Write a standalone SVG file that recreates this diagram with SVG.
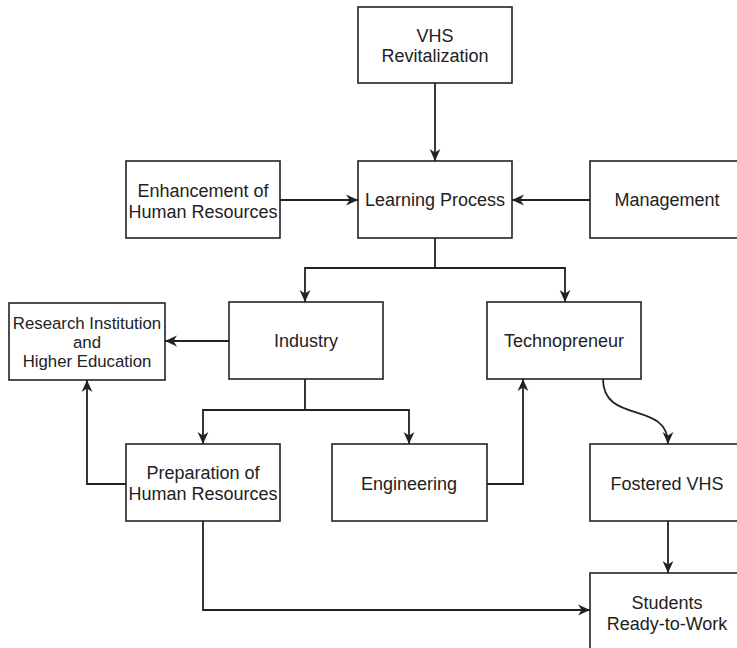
<svg xmlns="http://www.w3.org/2000/svg" width="737" height="648" viewBox="0 0 737 648">
<style>
.box{fill:#fff;stroke:#222;stroke-width:1.6}
.t{font-family:"Liberation Sans",Arial,sans-serif;font-size:18px;fill:#222;text-anchor:middle}
.s{font-size:16.8px}
.c{fill:none;stroke:#222;stroke-width:1.8}
</style>
<defs>
<marker id="a" viewBox="0 0 10 10" refX="10" refY="5" markerWidth="12" markerHeight="12" markerUnits="userSpaceOnUse" orient="auto">
<path d="M0,0.5 L10,5 L0,9.5 L3,5 z" fill="#222"/>
</marker>
</defs>
<rect width="737" height="648" fill="#fff"/>
<g id="connectors">
<path class="c" d="M435 83 V161" marker-end="url(#a)"/>
<path class="c" d="M280 200 H358" marker-end="url(#a)"/>
<path class="c" d="M590 200 H512" marker-end="url(#a)"/>
<path class="c" d="M435 238 V268 H305 V302" marker-end="url(#a)"/>
<path class="c" d="M435 268 H565 V302" marker-end="url(#a)"/>
<path class="c" d="M229 341 H165" marker-end="url(#a)"/>
<path class="c" d="M305 379 V410 H203 V444" marker-end="url(#a)"/>
<path class="c" d="M305 410 H409 V444" marker-end="url(#a)"/>
<path class="c" d="M487 484 H523 V379" marker-end="url(#a)"/>
<path class="c" d="M126 484 H87 V380" marker-end="url(#a)"/>
<path class="c" d="M603 379 C603 425 668 400 668 444" marker-end="url(#a)"/>
<path class="c" d="M668 521 V573" marker-end="url(#a)"/>
<path class="c" d="M203 521 V610 H590" marker-end="url(#a)"/>
</g>
<g id="vhs"><rect class="box" x="358" y="7" width="154" height="76"/><text class="t" x="435" y="42">VHS</text><text class="t" x="435" y="62">Revitalization</text></g>
<g id="enhancement"><rect class="box" x="126" y="161" width="154" height="77"/><text class="t" x="203" y="197">Enhancement of</text><text class="t" x="203" y="218">Human Resources</text></g>
<g id="learning"><rect class="box" x="358" y="161" width="154" height="77"/><text class="t" x="435" y="206">Learning Process</text></g>
<g id="management"><rect class="box" x="590" y="161" width="154" height="77"/><text class="t" x="667" y="206">Management</text></g>
<g id="research"><rect class="box" x="9" y="303" width="156" height="77"/><text class="t s" x="87" y="329">Research Institution</text><text class="t s" x="87" y="348">and</text><text class="t s" x="87" y="367">Higher Education</text></g>
<g id="industry"><rect class="box" x="229" y="302" width="154" height="77"/><text class="t" x="306" y="347">Industry</text></g>
<g id="technopreneur"><rect class="box" x="487" y="302" width="154" height="77"/><text class="t" x="564" y="347">Technopreneur</text></g>
<g id="preparation"><rect class="box" x="126" y="444" width="154" height="77"/><text class="t" x="203" y="479">Preparation of</text><text class="t" x="203" y="500">Human Resources</text></g>
<g id="engineering"><rect class="box" x="332" y="444" width="155" height="77"/><text class="t" x="409" y="490">Engineering</text></g>
<g id="fostered"><rect class="box" x="590" y="444" width="154" height="77"/><text class="t" x="667" y="490">Fostered VHS</text></g>
<g id="students"><rect class="box" x="590" y="573" width="154" height="80"/><text class="t" x="667" y="609">Students</text><text class="t" x="667" y="630">Ready-to-Work</text></g>
</svg>
